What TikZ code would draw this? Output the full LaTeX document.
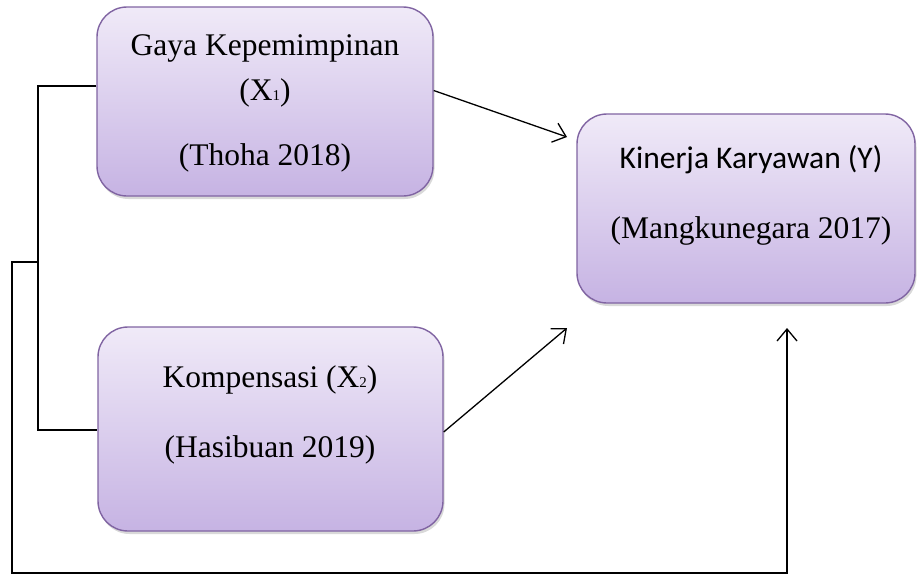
\documentclass[tikz,border=0pt]{standalone}
\usepackage{fontspec}
\setmainfont{Liberation Serif}
\newfontfamily\calibri{Carlito}
\usetikzlibrary{arrows.meta,shadows}
\definecolor{ungu}{HTML}{8064A2}
\definecolor{unguatas}{HTML}{F0EAF8}
\definecolor{ungubawah}{HTML}{C6B3E3}
\newcommand{\subkecil}[1]{{\fontsize{15}{15}\selectfont #1}}
\tikzset{
  kotak/.style={draw=ungu, line width=1.4pt, rounded corners=30pt,
    top color=unguatas, bottom color=ungubawah,
    drop shadow={shadow xshift=1.5pt, shadow yshift=-3pt, opacity=0.3}},
  teks/.style={align=center, inner sep=0pt, font=\fontsize{31.5}{45}\selectfont},
  garis/.style={line width=1.3pt},
  panah/.style={line width=1.3pt, -{Straight Barb[length=12pt,width=20pt]}}
}
\begin{document}
\begin{tikzpicture}[x=1pt,y=-1pt]
\useasboundingbox (0,0) rectangle (918,574);
% kotak variabel
\node[kotak, minimum width=336pt, minimum height=189pt] (x1) at (265,101.5) {};
\node[kotak, minimum width=345pt, minimum height=204pt] (x2) at (270.5,429) {};
\node[kotak, minimum width=338pt, minimum height=189pt] (y) at (746,208.5) {};
\node[teks] (x1t) at (265,103) {Gaya Kepemimpinan\\(X\subkecil{1})\\[20pt](Thoha 2018)};
\node[teks] (x2t) at (270,415) {Kompensasi (X\subkecil{2})\\[25pt](Hasibuan 2019)};
\node[teks] (yt) at (751,195) {{\calibri Kinerja Karyawan (Y)}\\[25pt](Mangkunegara 2017)};
% titik bantu
\coordinate (b1) at (38,86);
\coordinate (b2) at (38,430);
\coordinate (c1) at (38,262);
\coordinate (c2) at (12,262);
\coordinate (c3) at (12,573);
\coordinate (c4) at (787,328);
\coordinate (p1) at (567,137);
\coordinate (p2) at (567,328);
% garis
\draw[garis] (x1.west |- b1) -- (b1) -- (b2) -- (x2.west |- b2);
\draw[panah] (c1) -- (c2) -- (c3) -| (c4);
\draw[panah] ([yshift=11pt]x1.east) -- (p1);
\draw[panah] ([yshift=-3pt]x2.east) -- (p2);
\end{tikzpicture}
\end{document}
